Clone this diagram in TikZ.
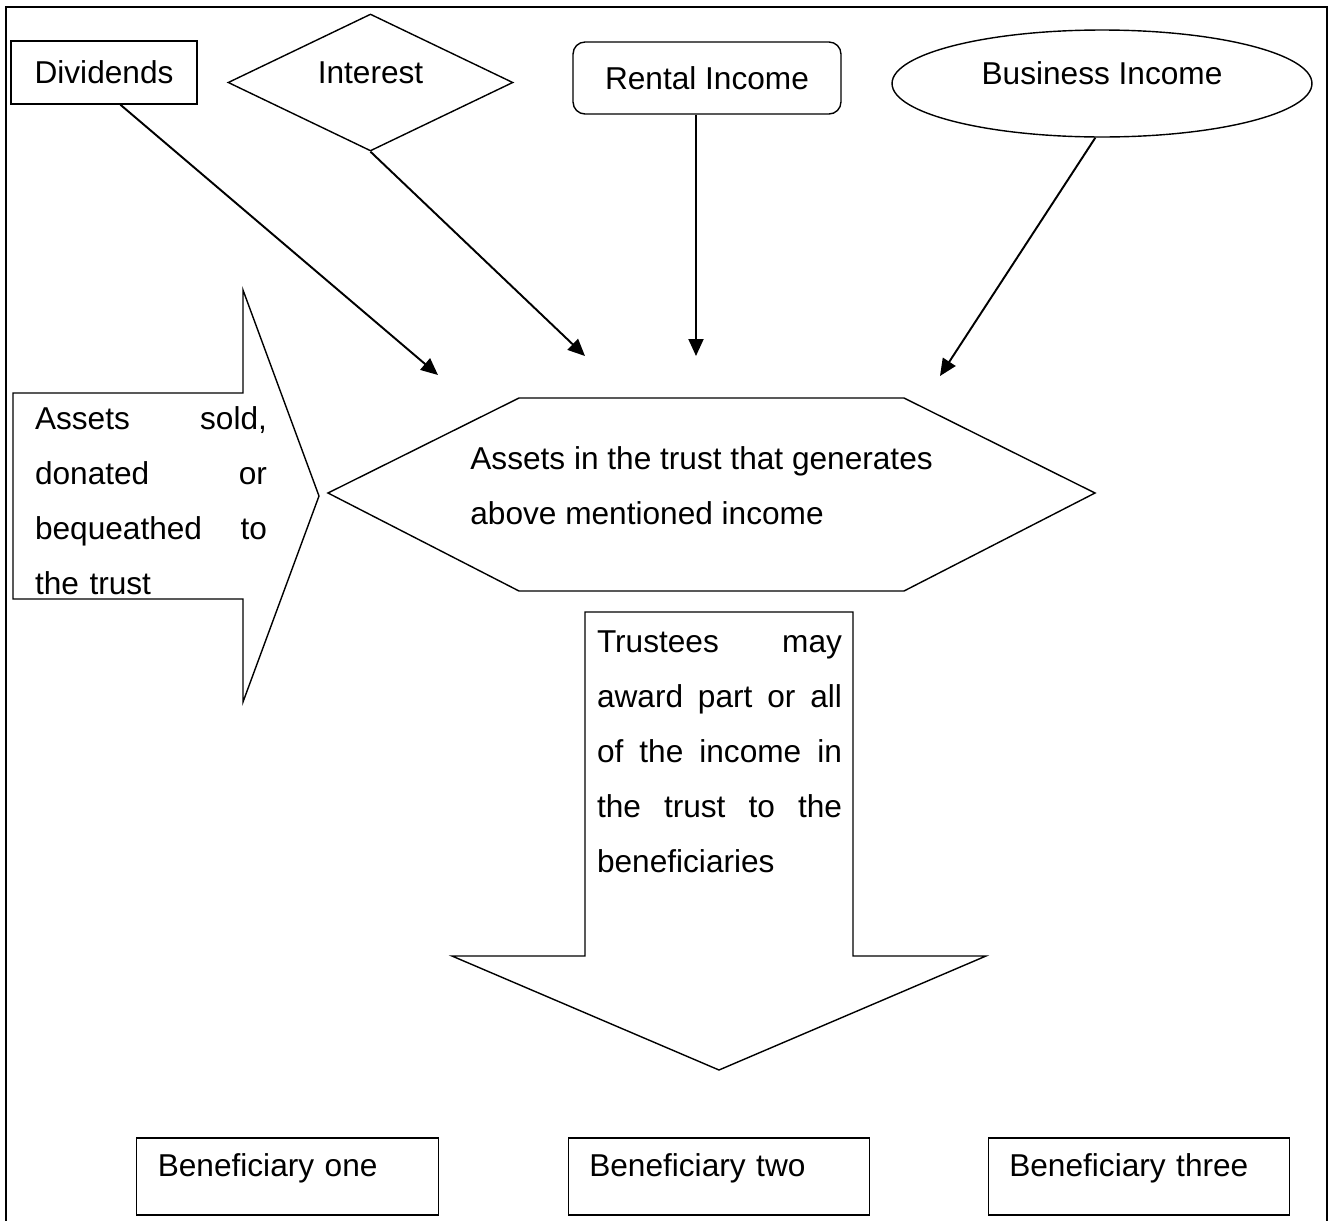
\documentclass[tikz,border=0pt]{standalone}
\usepackage{fontspec}
\setmainfont{Liberation Sans}
\usetikzlibrary{shapes.geometric, arrows.meta}

\begin{document}
\begin{tikzpicture}[
  x=0.02cm, y=-0.02cm,
  every node/.style={font=\fontsize{18}{31.3}\selectfont},
  box/.style={rectangle, draw, thick, inner sep=0pt},
  benef/.style={box, minimum height=1.54cm, text width=5.19cm, inner xsep=0.42cm, align=left, text height=0.5cm, text depth=0.5cm},
  blockarrow/.style={draw, thick, line join=miter},
  arrow/.style={line width=1.1pt, -{Triangle[length=0.34cm, width=0.3cm]}}
]
  \useasboundingbox (0,0) rectangle (1333,1221);
  \draw[line width=1.2pt] (6,1221) -- (6,7) -- (1327,7) -- (1327,1221);

  \node[box, minimum width=3.72cm, minimum height=1.26cm] (div) at (104,72.5) {Dividends};
  \node[diamond, draw, thick, inner sep=0pt, aspect=2, minimum width=5.7cm, minimum height=2.74cm, text depth=0.4cm] (int) at (370.5,82.5) {Interest};
  \node[box, rounded corners=0.24cm, minimum width=5.36cm, minimum height=1.44cm] (rent) at (707,78) {Rental Income};
  \node[ellipse, draw, thick, inner sep=0pt, minimum width=8.4cm, minimum height=2.14cm, text depth=0.42cm] (bus) at (1102,83.5) {Business Income};

  \coordinate (tipA) at (438,375);
  \coordinate (tipB) at (585,356);
  \coordinate (tipC) at (696,356);
  \coordinate (tipD) at (940,376);
  \draw[arrow] (div.-63) -- (tipA);
  \draw[arrow] (int.south) -- (tipB);
  \draw[arrow] (rent.south -| tipC) -- (tipC);
  \draw[arrow] (bus.263) -- (tipD);

  \draw[blockarrow] (328,493) -- (519,398) -- (904,398) -- (1095,493) -- (904,591) -- (519,591) -- cycle;
  \node[anchor=west, align=left, inner sep=0pt] (assets) at (470,485.5)
    {Assets in the trust that generates\\above mentioned income};

  \draw[blockarrow] (13,393) -- (243,393) -- (243,290) -- (319,496) -- (243,702) -- (243,599) -- (13,599) -- cycle;
  \node[text width=4.64cm, align=left, inner sep=0pt] (sold) at (151,500.5)
    {Assets\hfill sold,\\donated\hfill or\\bequeathed\hfill to\\the trust};

  \draw[blockarrow] (585,612) -- (853,612) -- (853,956) -- (986,956) -- (719,1070) -- (452,956) -- (585,956) -- cycle;
  \node[text width=4.9cm, align=left, inner sep=0pt] (award) at (719.5,752)
    {Trustees\hfill may\\award\hfill part\hfill or\hfill all\\of\hfill the\hfill income\hfill in\\the\hfill trust\hfill to\hfill the\\beneficiaries};

  \node[benef] (one) at (287.5,1176.5) {Beneficiary one};
  \node[benef] (two) at (719,1176.5) {Beneficiary two};
  \node[benef] (three) at (1139,1176.5) {Beneficiary three};
\end{tikzpicture}
\end{document}
